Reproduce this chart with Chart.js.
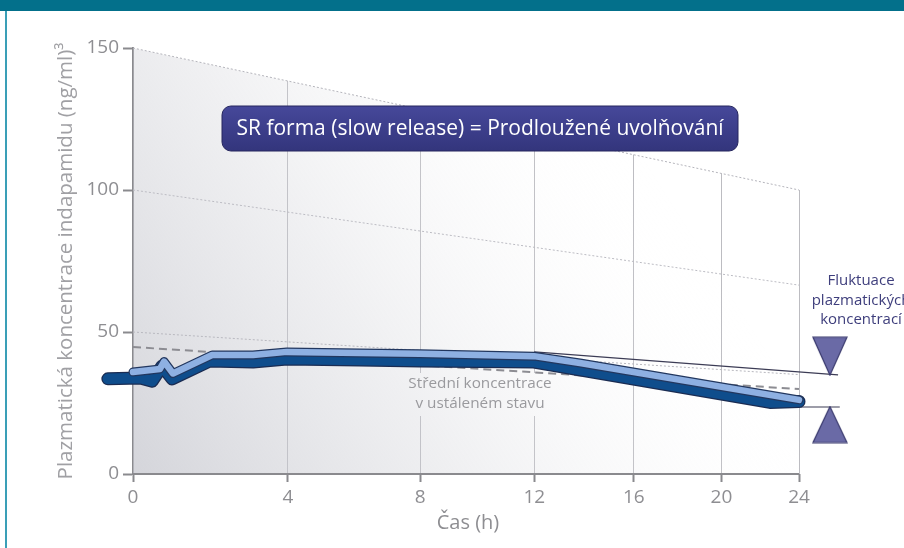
<!DOCTYPE html>
<html>
<head>
<meta charset="utf-8">
<script src="https://cdn.jsdelivr.net/npm/chart.js@4.4.0/dist/chart.umd.min.js"></script>
<style>
    html, body { margin: 0; padding: 0; background: #fff; }
    #wrap { position: relative; width: 904px; height: 548px; overflow: hidden; }
    #wrap canvas { position: absolute; left: 0; top: 0; }
    #banner { position: absolute; left: 0; top: 0; width: 904px; height: 11px; background: #03708b; }
    #edge { position: absolute; left: 5px; top: 0; width: 2px; height: 548px; background: #3a9fb7; }
</style>
</head>
<body>
<div id="wrap">
    <canvas id="chart" width="904" height="548"></canvas>
    <div id="edge"></div>
    <div id="banner"></div>
</div>
<script>
(function () {
    'use strict';

    // axes
    var xTicks = [0, 4, 8, 12, 16, 20, 24];          // Čas (h)
    var yTicks = [0, 50, 100, 150];                  // ng/ml
    var X_MAX = 27;                                  // room on the right for the fluctuation marks

    // SR ribbon, light upper face
    var lightH = [0, 0.65, 0.75, 0.97, 1.96, 3.04, 3.97, 6.1, 7.99, 11.99, 13.77, 24];
    var lightV = [35.9, 37.0, 39.6, 35.4, 41.9, 41.9, 43.0, 42.6, 42.3, 41.5, 39.1, 26.1];

    // SR ribbon, dark lower face
    var darkH = [-0.59, 0.17, 0.46, 0.7, 0.95, 1.9, 3.04, 3.97, 6.1, 7.99, 11.99, 22.45, 24];
    var darkV = [33.5, 33.8, 32.7, 38.0, 33.5, 39.8, 39.4, 40.5, 40.1, 39.8, 39.4, 25.2, 25.5];

    // mean steady-state concentration (dashed)
    var meanH = [0, 24];
    var meanV = [44.7, 29.9];

    // receding back-wall lines (perspective grid)
    var wallH = [0, 24];
    var wall150 = [150, 100];
    var wall100 = [100, 66.5];
    var wall50 = [50, 35];
    var maskH = [0, 24, 27];
    var maskV = [150, 100, 100];

    // fluctuation range
    var fluctTopH = [12, 26.2];
    var fluctTopV = [43.0, 34.9];
    var fluctLowH = [22.45, 26.3];
    var fluctLowV = [23.6, 23.6];
    var triH = [25.73, 25.73];
    var triV = [41.5, 17.4];

    var axisH = [0, 24];
    var axisV = [0, 0];

    function pts(xs, ys) {
        var out = [];
        for (var i = 0; i < xs.length; i++) out.push({ x: xs[i], y: ys[i] });
        return out;
    }

    // time axis is drawn in perspective: later hours get squeezed
    var K = 0.0215;
    function warp(h) { return h / (1 + K * h); }
    function unwarp(u) { return u / (1 - K * u); }

    class PerspectiveScale extends Chart.LinearScale {
        getPixelForValue(value) {
            if (value === null || value === undefined) return NaN;
            var a = warp(this.min), b = warp(this.max);
            return this.getPixelForDecimal((warp(value) - a) / (b - a));
        }
        getValueForPixel(pixel) {
            var a = warp(this.min), b = warp(this.max);
            return unwarp(a + this.getDecimalForPixel(pixel) * (b - a));
        }
    }
    PerspectiveScale.id = 'perspective';
    PerspectiveScale.defaults = Chart.LinearScale.defaults;
    Chart.register(PerspectiveScale);

    Chart.defaults.font.family = "'Open Sans', 'Noto Sans', sans-serif";

    var LEFT = 133, X24 = 799;
    var plotW = (X24 - LEFT) * warp(X_MAX) / warp(24);

    function triangle(down, w, h) {
        var c = document.createElement('canvas');
        c.width = w; c.height = h;
        var g = c.getContext('2d');
        g.beginPath();
        if (down) {
            g.moveTo(1, 1); g.lineTo(w - 1, 1); g.lineTo(w / 2, h - 1);
        } else {
            g.moveTo(w / 2, 1); g.lineTo(w - 1, h - 1); g.lineTo(1, h - 1);
        }
        g.closePath();
        g.fillStyle = '#6a6aa6';
        g.fill();
        g.strokeStyle = '#3a3a6e';
        g.lineWidth = 1.2;
        g.stroke();
        return c;
    }

    function wallGradient(ctx) {
        var chart = ctx.chart;
        if (!chart.chartArea) return 'rgba(0,0,0,0)';
        var g = chart.ctx.createLinearGradient(LEFT, 474, 640, 150);
        g.addColorStop(0, 'rgba(194,195,203,0.7)');
        g.addColorStop(0.45, 'rgba(207,208,214,0.33)');
        g.addColorStop(1, 'rgba(255,255,255,0)');
        return g;
    }

    var line = function (data, o) {
        return Object.assign({
            data: data, showLine: true, pointRadius: 0, fill: false,
            clip: false, tension: 0, borderJoinStyle: 'round', borderCapStyle: 'round'
        }, o);
    };

    // bottom-most first
    var layers = [
        line(pts(wallH, wall150), { fill: 'origin', backgroundColor: wallGradient, borderWidth: 0, borderColor: 'rgba(0,0,0,0)' }),
        line(pts(maskH, maskV), { fill: 'end', backgroundColor: '#ffffff', borderWidth: 0, borderColor: 'rgba(0,0,0,0)' }),
        line(pts(wallH, wall150), { borderColor: '#b4b4bb', borderWidth: 1, borderDash: [2, 2], borderCapStyle: 'butt' }),
        line(pts(wallH, wall100), { borderColor: '#bcbcc3', borderWidth: 1, borderDash: [2, 2], borderCapStyle: 'butt' }),
        line(pts(wallH, wall50), { borderColor: '#b8b8bf', borderWidth: 1, borderDash: [2, 2], borderCapStyle: 'butt' }),
        line(pts(axisH, axisV), { borderColor: '#8a8a8e', borderWidth: 2, borderCapStyle: 'butt' }),
        line(pts(meanH, meanV), { borderColor: '#8c8c92', borderWidth: 2, borderDash: [8, 5], borderCapStyle: 'butt' }),
        line(pts(fluctTopH, fluctTopV), { borderColor: '#3c3c55', borderWidth: 1.2, borderCapStyle: 'butt' }),
        line(pts(fluctLowH, fluctLowV), { borderColor: '#3c3c55', borderWidth: 1.2, borderCapStyle: 'butt' }),
        line(pts(darkH, darkV), { borderColor: '#1b2c52', borderWidth: 13 }),
        line(pts(darkH, darkV), { borderColor: '#0f4d8c', borderWidth: 10.5 }),
        line(pts(lightH, lightV), { borderColor: '#22375f', borderWidth: 9 }),
        line(pts(lightH, lightV), { borderColor: '#8eb0e2', borderWidth: 6.5 }),
        {
            data: pts(triH.slice(0, 1), triV.slice(0, 1)), showLine: false,
            pointStyle: triangle(true, 36, 40), pointRadius: 12
        },
        {
            data: pts(triH.slice(1), triV.slice(1)), showLine: false,
            pointStyle: triangle(false, 36, 38), pointRadius: 12
        }
    ];
    for (var i = 0; i < layers.length; i++) layers[i].order = layers.length - i;

    var decor = {
        id: 'decor',
        beforeDatasetsDraw: function (chart) {
            // backdrop of the mean-concentration note interrupts the grid
            var c = chart.ctx;
            c.save();
            c.fillStyle = '#ffffff';
            c.fillRect(404, 373, 152, 43);
            c.restore();
        },
        afterDatasetsDraw: function (chart) {
            var c = chart.ctx;
            var xs = chart.scales.x;
            c.save();

            // SR label box
            var bx = 222, by = 106, bw = 516, bh = 45;
            var g = c.createLinearGradient(0, by, 0, by + bh);
            g.addColorStop(0, '#46489a');
            g.addColorStop(1, '#33357c');
            c.beginPath();
            c.roundRect(bx, by, bw, bh, 9);
            c.fillStyle = g;
            c.fill();
            c.strokeStyle = '#26275e';
            c.lineWidth = 1;
            c.stroke();
            c.fillStyle = '#ffffff';
            c.font = "21px 'Open Sans', sans-serif";
            c.textAlign = 'center';
            c.textBaseline = 'middle';
            c.fillText('SR forma (slow release) = Prodloužené uvolňování', bx + bw / 2, by + bh / 2 + 1);

            // mean concentration note
            c.fillStyle = '#9a9a9e';
            c.font = "15.3px 'Open Sans', sans-serif";
            c.fillText('Střední koncentrace', 480, 384);
            c.fillText('v ustáleném stavu', 480, 404);

            // fluctuation note
            c.fillStyle = '#3e3e7c';
            c.font = "15px 'Open Sans', sans-serif";
            c.fillText('Fluktuace', 861, 281);
            c.fillText('plazmatických', 861, 301);
            c.fillText('koncentrací', 861, 320);

            // x axis title
            c.fillStyle = '#8e8e92';
            c.font = "20px 'Open Sans', sans-serif";
            c.fillText('Čas (h)', (xs.getPixelForValue(0) + xs.getPixelForValue(24)) / 2 + 2, 523);
            c.restore();
        }
    };

    new Chart(document.getElementById('chart'), {
        type: 'line',
        data: { datasets: layers },
        options: {
            responsive: false,
            animation: false,
            events: [],
            layout: { padding: { top: 48, right: 904 - LEFT - plotW, bottom: 0, left: 0 } },
            plugins: {
                legend: { display: false },
                tooltip: { enabled: false }
            },
            scales: {
                x: {
                    type: 'perspective',
                    min: 0,
                    max: X_MAX,
                    afterBuildTicks: function (s) { s.ticks = xTicks.map(function (v) { return { value: v }; }); },
                    afterFit: function (s) { s.height = 74; },
                    border: { display: false },
                    grid: { color: '#bcbcc1', lineWidth: 1, tickColor: '#8a8a8e', tickWidth: 2, tickLength: 8 },
                    ticks: { color: '#8e8e92', font: { size: 19 }, padding: 4, maxRotation: 0, autoSkip: false }
                },
                y: {
                    type: 'linear',
                    min: 0,
                    max: 150,
                    afterBuildTicks: function (s) { s.ticks = yTicks.map(function (v) { return { value: v }; }); },
                    afterFit: function (s) { s.width = LEFT; },
                    border: { display: true, color: '#8a8a8e', width: 2 },
                    grid: { drawOnChartArea: false, tickColor: '#8a8a8e', tickWidth: 2, tickLength: 10 },
                    ticks: { color: '#8e8e92', font: { size: 19 }, padding: 4 },
                    title: {
                        display: true,
                        text: 'Plazmatická koncentrace indapamidu (ng/ml)³',
                        color: '#a0a0a4',
                        font: { size: 20.5 },
                        padding: { top: 54, bottom: 0 }
                    }
                }
            }
        },
        plugins: [decor]
    });
})();
</script>
</body>
</html>
